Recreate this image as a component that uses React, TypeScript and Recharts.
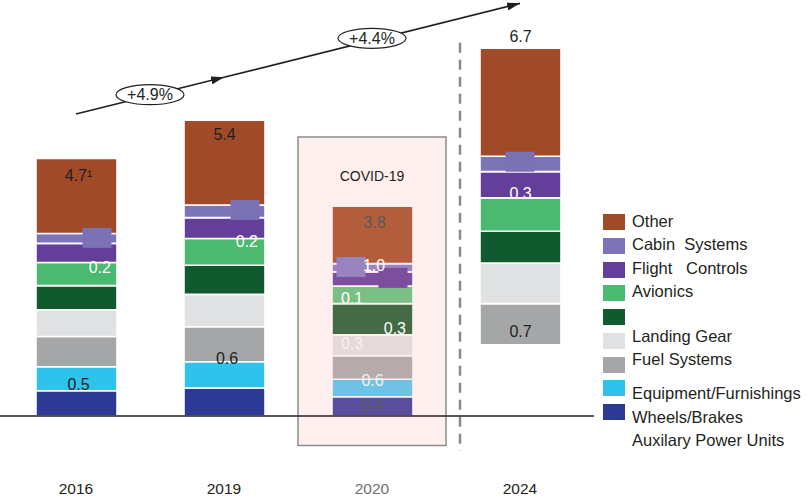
import React from "react";
import {
  ComposedChart,
  Bar,
  Cell,
  Scatter,
  XAxis,
  YAxis,
  LabelList,
  ReferenceArea,
  ReferenceLine,
} from "recharts";

const years = ["2016", "2019", "2020", "2024"];

// stacked segment values, bottom of the stack first
const wheelsBrakes = [0.46, 0.51, 0.35, 0.65];
const equipment = [0.44, 0.48, 0.32, 0.65];
const fuelSystems = [0.55, 0.64, 0.43, 0.75];
const landingGear = [0.49, 0.59, 0.38, 0.74];
const unlabeled = [0.44, 0.53, 0.57, 0.58];
const avionics = [0.42, 0.49, 0.32, 0.61];
const flightControls = [0.35, 0.38, 0.26, 0.48];
const cabinSystems = [0.18, 0.23, 0.15, 0.28];
const other = [1.37, 1.55, 1.05, 1.97];

// printed labels ("" = nothing printed)
const wheelsLabels = ["", "", "0.4", ""];
const equipmentLabels = ["0.5", "", "0.6", ""];
const fuelLabels = ["", "0.6", "", "0.7"];
const landingLabels = ["", "", "0.3", ""];
const unlabeledLabels = ["", "", "0.3", ""];
const avionicsLabels = ["0.2", "0.2", "0.1", ""];
const flightLabels = ["", "", "", "0.3"];
const cabinLabels = ["", "", "1.0", ""];
const otherLabels = ["4.7¹", "5.4", "3.8", "6.7"];

// small tabs sitting on the cabin band
const tabA = [3.25, 3.76, 2.72, 4.64];
const tabB = [null, null, 2.52, null];
const tabASide = [1, 1, -1, 0];
const tabBSide = [0, 0, 1, 0];

const cagr = ["+4.9%", "+4.4%"];
const trendLevels = [5.51, 6.18, 7.53];

const series = [
  { key: "wheels", name: "Wheels/Brakes", values: wheelsBrakes, labels: wheelsLabels, color: "#2d3a93", covid: "#5a4d9d", hidden: ["2024"] },
  { key: "equipment", name: "Equipment/Furnishings", values: equipment, labels: equipmentLabels, color: "#2fc3ec", covid: "#6fc2e4", hidden: ["2024"] },
  { key: "fuel", name: "Fuel Systems", values: fuelSystems, labels: fuelLabels, color: "#a4a6a8", covid: "#b6abab", hidden: [] },
  { key: "landing", name: "Landing Gear", values: landingGear, labels: landingLabels, color: "#dfe1e3", covid: "#e5d9d9", hidden: [] },
  { key: "unlabeled", name: "", values: unlabeled, labels: unlabeledLabels, color: "#11592f", covid: "#446b46", hidden: [] },
  { key: "avionics", name: "Avionics", values: avionics, labels: avionicsLabels, color: "#4bb96f", covid: "#7bbf85", hidden: [] },
  { key: "flight", name: "Flight   Controls", values: flightControls, labels: flightLabels, color: "#633f9a", covid: "#7d4fa0", hidden: [] },
  { key: "cabin", name: "Cabin  Systems", values: cabinSystems, labels: cabinLabels, color: "#7c74b6", covid: "#9a86bf", hidden: [] },
  { key: "other", name: "Other", values: other, labels: otherLabels, color: "#a14a28", covid: "#b25d3c", hidden: [] },
];

const data = years.map((year, i) => {
  const row: any = { year, tabA: tabA[i], tabB: tabB[i] };
  series.forEach((s) => (row[s.key] = s.values[i]));
  return row;
});

const INK = "#231f20";
const MUTED = "#5a5a5a";
const WHITE = "#ffffff";

// where each printed number sits within (or above) its segment
const labelPlacement: Record<string, { v: string; h: string; d: number; dx: number; fill: string }> = {
  "other-2016": { v: "top", h: "center", d: 11, dx: 2, fill: INK },
  "other-2019": { v: "top", h: "center", d: 8.3, dx: 0, fill: INK },
  "other-2020": { v: "top", h: "center", d: 10.7, dx: 2, fill: MUTED },
  "other-2024": { v: "above", h: "center", d: 6.3, dx: 0, fill: INK },
  "avionics-2016": { v: "top", h: "right", d: -1, dx: 6, fill: WHITE },
  "avionics-2019": { v: "top", h: "right", d: -3, dx: 7, fill: WHITE },
  "avionics-2020": { v: "bottom", h: "left", d: 0, dx: 9, fill: WHITE },
  "equipment-2016": { v: "bottom", h: "center", d: 1, dx: 2, fill: INK },
  "fuel-2019": { v: "bottom", h: "center", d: -2.6, dx: 2.5, fill: INK },
  "cabin-2020": { v: "center", h: "center", d: -2.5, dx: 1.5, fill: WHITE },
  "unlabeled-2020": { v: "bottom", h: "right", d: 1, dx: 7, fill: WHITE },
  "landing-2020": { v: "top", h: "left", d: 2.4, dx: 9, fill: "#f7f2f2" },
  "equipment-2020": { v: "top", h: "center", d: -5, dx: 0, fill: "#f7f2f2" },
  "wheels-2020": { v: "center", h: "center", d: -1, dx: 0, fill: MUTED },
  "flight-2024": { v: "bottom", h: "center", d: -1.6, dx: 0, fill: WHITE },
  "fuel-2024": { v: "bottom", h: "center", d: 7.3, dx: 0, fill: INK },
};

const LABEL_SIZE = 16;
const CAP = LABEL_SIZE * 0.716;

const segmentLabel = (s: any) => (p: any) => {
  const idx = p.index;
  const text = s.labels[idx];
  if (!text) return null;
  const place = labelPlacement[`${s.key}-${years[idx]}`];
  if (!place) return null;
  const box = p.viewBox && p.viewBox.width != null ? p.viewBox : p;
  const x = Number(box.x);
  const y = Number(box.y);
  const w = Number(box.width);
  const h = Number(box.height);
  let by = y + h / 2 + CAP / 2 + place.d;
  if (place.v === "top") by = y + place.d + CAP;
  if (place.v === "bottom") by = y + h - place.d;
  if (place.v === "above") by = y - place.d;
  let bx = x + w / 2 + place.dx;
  let anchor: any = "middle";
  if (place.h === "left") {
    bx = x + place.dx;
    anchor = "start";
  }
  if (place.h === "right") {
    bx = x + w - place.dx;
    anchor = "end";
  }
  return (
    <text x={bx} y={by} textAnchor={anchor} fill={place.fill} fontSize={LABEL_SIZE}>
      {text}
    </text>
  );
};

const makeTab = (field: string, sides: number[], colors: string[]) => (p: any) => {
  const i = years.indexOf(p.payload?.year);
  if (i < 0 || p.payload[field] == null || p.cx == null || p.cy == null) return null;
  const w = 29;
  const h = 20;
  const cx = p.cx + sides[i] * 21;
  return <rect x={cx - w / 2} y={p.cy - h / 2} width={w} height={h} fill={colors[i]} />;
};

const tabAColors = ["#7a72b4", "#7a72b4", "#9783bd", "#7a72b4"];
const tabBColors = ["#7b4f9d", "#7b4f9d", "#7b4f9d", "#7b4f9d"];

const ArrowLine = (p: any) => (
  <line x1={p.x1} y1={p.y1} x2={p.x2} y2={p.y2} stroke={INK} strokeWidth={1.6} markerEnd="url(#trendArrow)" />
);

// forecast divider sits a little left of the 2024 bar
const Divider = (p: any) => (
  <line x1={p.x1 - 60} y1={p.y1} x2={p.x2 - 60} y2={p.y2} stroke="#8a8a8a" strokeWidth={2.5} strokeDasharray="10 7" />
);

const CagrBadge = ({ viewBox, text, lift }: any) => {
  if (!viewBox) return null;
  const cx = viewBox.x + viewBox.width / 2;
  const cy = viewBox.y + viewBox.height / 2 - (lift || 0);
  return (
    <g>
      <ellipse cx={cx} cy={cy} rx={34} ry={10} fill="#fff" stroke={INK} strokeWidth={1.2} />
      <text x={cx} y={cy + 5.5} textAnchor="middle" fill={INK} fontSize={16}>
        {text}
      </text>
    </g>
  );
};

const CovidLabel = ({ viewBox }: any) => {
  if (!viewBox) return null;
  return (
    <text x={viewBox.x + viewBox.width / 2} y={viewBox.y + 43.5} textAnchor="middle" fill={INK} fontSize={14}>
      COVID-19
    </text>
  );
};

const YearTick = (p: any) => (
  <text x={p.x} y={p.y} dy="0.71em" textAnchor="middle" fontSize={15.5} fill={p.payload.value === "2020" ? "#6f6f6f" : INK}>
    {p.payload.value}
  </text>
);

const legendTextShift = [-1.5, -1.5, -2, -2, 0, -5, -6, 5, 5];
const extraLegendText = "Auxilary Power Units";

const ChartLegend = () => {
  const rows = [...series].reverse();
  const top = 214;
  const step = 23.75;
  return (
    <div style={{ position: "absolute", left: 603, top: 0, fontSize: 16.5, color: INK }}>
      {rows.map((s, i) => (
        <div key={s.key}>
          <div style={{ position: "absolute", left: 0, top: top + i * step, width: 22, height: 16, background: s.color }} />
          {s.name && (
            <div style={{ position: "absolute", left: 29, top: top + i * step + 8 + legendTextShift[i] - 10, lineHeight: "20px", whiteSpace: "pre" }}>
              {s.name}
            </div>
          )}
        </div>
      ))}
      <div style={{ position: "absolute", left: 29, top: 440 - 10, lineHeight: "20px", whiteSpace: "pre" }}>
        {extraLegendText}
      </div>
    </div>
  );
};

export default function App() {
  return (
    <div style={{ position: "absolute", left: 0, top: 0, width: 806, height: 504, background: "#fff", fontFamily: '"Liberation Sans", Arial, sans-serif' }}>
      <svg width={0} height={0} style={{ position: "absolute" }}>
        <defs>
          <marker id="trendArrow" markerWidth={13} markerHeight={8} refX={13} refY={4} orient="auto" markerUnits="userSpaceOnUse">
            <path d="M0,0 L13,4 L0,8 z" fill={INK} />
          </marker>
        </defs>
      </svg>
      <ComposedChart width={806} height={504} data={data} margin={{ top: 5, right: 212, bottom: 0, left: 0 }}>
        <XAxis
          dataKey="year"
          height={88}
          padding={{ left: 2, right: 0 }}
          axisLine={{ stroke: INK, strokeWidth: 1.5 }}
          tickLine={false}
          tickSize={0}
          tickMargin={67}
          tick={YearTick}
          interval={0}
        />
        <YAxis hide domain={[0, 7.5]} />
        <ReferenceArea
          x1="2020"
          x2="2020"
          y1={5.09}
          y2={-0.54}
          ifOverflow="visible"
          fill="#fff0ef"
          fillOpacity={1}
          stroke="#8c8c8c"
          strokeWidth={1.5}
          label={<CovidLabel />}
        />
        {series.map((s) => (
          <Bar key={s.key} dataKey={s.key} name={s.name} stackId="a" barSize={81} isAnimationActive={false} strokeWidth={1.6}>
            {years.map((y) => {
              const hidden = s.hidden.includes(y);
              const covid = y === "2020";
              return (
                <Cell
                  key={y}
                  fill={hidden ? "none" : covid ? s.covid : s.color}
                  stroke={hidden ? "none" : covid ? "#fff0ef" : "#ffffff"}
                />
              );
            })}
            <LabelList dataKey={s.key} content={segmentLabel(s)} />
          </Bar>
        ))}
        <Scatter dataKey="tabA" isAnimationActive={false} shape={makeTab("tabA", tabASide, tabAColors)} />
        <Scatter dataKey="tabB" isAnimationActive={false} shape={makeTab("tabB", tabBSide, tabBColors)} />
        <ReferenceLine
          segment={[{ x: years[3], y: 6.81 }, { x: years[3], y: -0.64 }]}
          ifOverflow="visible"
          shape={Divider}
        />
        <ReferenceLine
          segment={[{ x: years[0], y: trendLevels[0] }, { x: years[1], y: trendLevels[1] }]}
          ifOverflow="visible"
          shape={ArrowLine}
          label={<CagrBadge text={cagr[0]} lift={1} />}
        />
        <ReferenceLine
          segment={[{ x: years[1], y: trendLevels[1] }, { x: years[3], y: trendLevels[2] }]}
          ifOverflow="visible"
          shape={ArrowLine}
          label={<CagrBadge text={cagr[1]} lift={2} />}
        />
      </ComposedChart>
      <ChartLegend />
    </div>
  );
}
